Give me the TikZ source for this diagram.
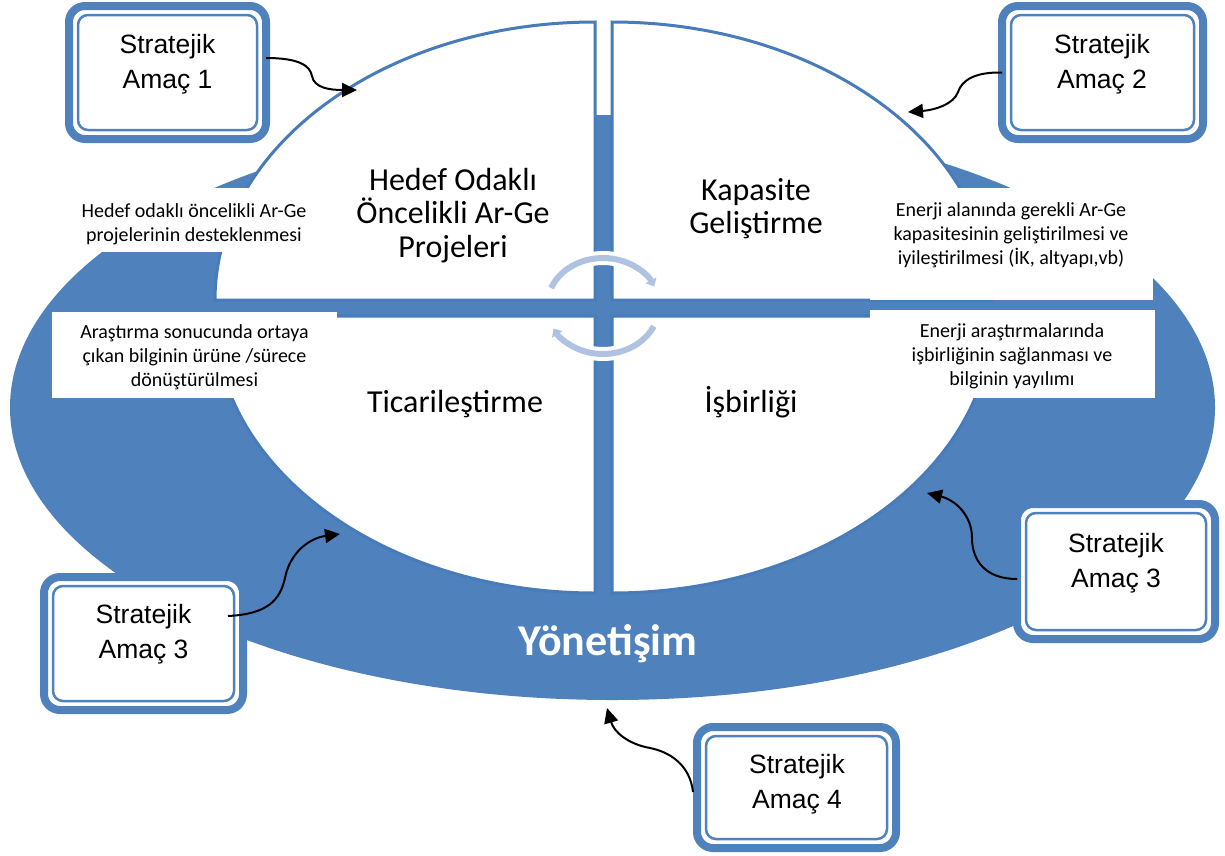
\documentclass[tikz,border=0pt]{standalone}
\usepackage{fontspec}
\setmainfont{Carlito}
\newfontfamily\arialf{Liberation Sans}
\usetikzlibrary{arrows.meta}
\definecolor{mainblue}{RGB}{79,129,189}
\definecolor{edgeblue}{RGB}{72,123,185}
\definecolor{cyclblue}{RGB}{176,194,226}
\newcommand\ctrlines[1]{\vtop{\halign{\hfil##\hfil\cr#1\crcr}}}
\tikzset{
  smalltxt/.style={font=\fontsize{20}{24}\selectfont, anchor=base, inner sep=0pt},
  bigtxt/.style={font=\fontsize{32}{33.7}\selectfont, anchor=base, inner sep=0pt},
  goaltxt/.style={font=\arialf\fontsize{26.5}{35}\selectfont, anchor=base, inner sep=0pt},
  govtxt/.style={font=\bfseries\fontsize{44}{48}\selectfont, text=white, anchor=base, inner sep=0pt},
  goalbox/.style={draw=mainblue, line width=8pt, rounded corners=16pt, fill=white, outer sep=0pt, inner sep=0pt},
  goalinner/.style={draw=mainblue, line width=2.5pt, rounded corners=10pt},
  quad/.style={fill=white, draw=edgeblue, line width=3pt},
  txtbox/.style={fill=white},
  conn/.style={draw=black, line width=2pt, -{Triangle[length=15pt,width=14pt]}},
  cyc/.style={draw=cyclblue, line width=6pt, -{Triangle[length=7pt,width=12pt]}},
  halo/.style={draw=white, line width=14pt},
}
\begin{document}
\begin{tikzpicture}[x=1pt,y=-1pt]
\fill[white] (0,0) rectangle (1225,855);
\useasboundingbox (0,0) rectangle (1225,855);

% outer governance ellipse
\fill[mainblue] (612.5,407.5) ellipse [x radius=602.5, y radius=292.5];

% four quadrants
\path[quad] (595,300) -- (215,300) arc[start angle=180, end angle=270, x radius=380, y radius=278] -- cycle;
\path[quad] (612,300) -- (612,22) arc[start angle=270, end angle=360, x radius=380, y radius=278] -- cycle;
\path[quad] (595,316) -- (215,316) arc[start angle=180, end angle=90, x radius=380, y radius=277] -- cycle;
\path[quad] (612,316) -- (992,316) arc[start angle=0, end angle=90, x radius=380, y radius=277] -- cycle;

% side text boxes
\path[txtbox] (52,188) rectangle (337,252);
\path[txtbox] (52,312) rectangle (337,398);
\path[txtbox] (870,188) rectangle (1153,300);
\path[txtbox] (870,310) rectangle (1155,398);

% cycle arrows in the centre
\draw[halo] (603,306) ++(202:56 and 48) arc[start angle=202, end angle=336, x radius=56, y radius=48];
\draw[halo] (603,306) ++(25:56 and 48) arc[start angle=25, end angle=152, x radius=56, y radius=48];
\draw[cyc] (603,306) ++(202:56 and 48) arc[start angle=202, end angle=336, x radius=56, y radius=48];
\draw[cyc] (603,306) ++(25:56 and 48) arc[start angle=25, end angle=152, x radius=56, y radius=48];

% quadrant titles
\node[bigtxt] (q1) at (453,190) {\ctrlines{Hedef Odaklı\cr Öncelikli Ar-Ge\cr Projeleri}};
\node[bigtxt] (q2) at (756,200) {\ctrlines{Kapasite\cr Geliştirme}};
\node[bigtxt] (q3) at (455,412) {Ticarileştirme};
\node[bigtxt] (q4) at (751,412) {İşbirliği};

% side texts
\node[smalltxt] (s1) at (194,217) {\ctrlines{Hedef odaklı öncelikli Ar-Ge\cr projelerinin desteklenmesi}};
\node[smalltxt] (s2) at (194.5,338) {\ctrlines{Araştırma sonucunda ortaya\cr çıkan bilginin ürüne /sürece\cr dönüştürülmesi}};
\node[smalltxt] (s3) at (1011,216) {\ctrlines{Enerji alanında gerekli Ar-Ge\cr kapasitesinin geliştirilmesi ve\cr iyileştirilmesi (İK, altyapı,vb)}};
\node[smalltxt] (s4) at (1012,337) {\ctrlines{Enerji araştırmalarında\cr işbirliğinin sağlanması ve\cr bilginin yayılımı}};

\node[govtxt] (gov) at (608,655) {Yönetişim};

% goal boxes
\node[goalbox, minimum width=197pt, minimum height=133pt] (B1) at (167.5,72.5) {};
\node[goalbox, minimum width=201pt, minimum height=133pt] (B2) at (1102.5,72.5) {};
\node[goalbox, minimum width=199pt, minimum height=133pt] (B3L) at (143.5,643.5) {};
\node[goalbox, minimum width=198pt, minimum height=135pt] (B3R) at (1116,571.5) {};
\node[goalbox, minimum width=199pt, minimum height=121pt] (B4) at (796.5,787.5) {};
\foreach \b in {B1,B2,B3L,B3R,B4}{
  \draw[goalinner] ([shift={(9pt,-9pt)}]\b.north west) rectangle ([shift={(-9pt,9pt)}]\b.south east);
}
\node[goaltxt] (g1) at (167.5,53) {\ctrlines{Stratejik\cr Amaç 1}};
\node[goaltxt] (g2) at (1102,53) {\ctrlines{Stratejik\cr Amaç 2}};
\node[goaltxt] (g3) at (143.5,623) {\ctrlines{Stratejik\cr Amaç 3}};
\node[goaltxt] (g3r) at (1116,552) {\ctrlines{Stratejik\cr Amaç 3}};
\node[goaltxt] (g4) at (797,773) {\ctrlines{Stratejik\cr Amaç 4}};

% connectors
\coordinate (e1) at (357,90);
\coordinate (e2) at (908,112);
\coordinate (e3) at (340,534);
\coordinate (e4) at (927,493);
\coordinate (e5) at (607,708);
\draw[conn] ([yshift=14.5pt]B1.east) .. controls (300,58) and (310,66) .. (312,76) .. controls (314,88) and (330,90) .. (e1);
\draw[conn] (B2.west) .. controls (975,72) and (962,80) .. (958,92) .. controls (954,104) and (935,110) .. (e2);
\draw[conn] ([xshift=-15pt,yshift=27.5pt]B3L.east) .. controls (268,614) and (280,600) .. (285,578) .. controls (290,552) and (310,538) .. (e3);
\draw[conn] ([yshift=-7.5pt]B3R.west) .. controls (985,579) and (972,560) .. (972,538) .. controls (972,515) and (955,500) .. (e4);
\draw[conn] ([xshift=-4pt,yshift=-4.5pt]B4.west) .. controls (690,765) and (670,752) .. (650,748) .. controls (628,744) and (614,732) .. (e5);
\end{tikzpicture}
\end{document}
